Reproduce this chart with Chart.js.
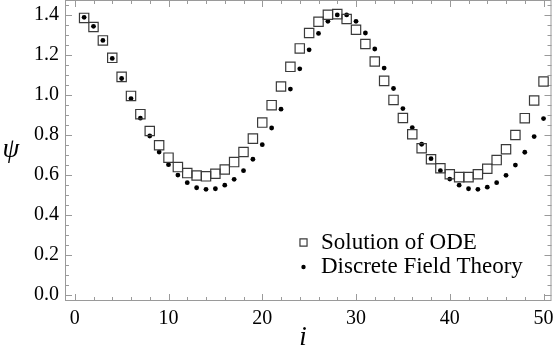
<!DOCTYPE html>
<html>
<head>
<meta charset="utf-8">
<script src="https://cdn.jsdelivr.net/npm/chart.js@4.4.1/dist/chart.umd.min.js"></script>
<style>
  body { margin: 0; background: #fff; }
  #wrap { width: 554px; height: 364px; position: relative; }
</style>
</head>
<body>
<div id="wrap"><canvas id="psiChart"></canvas></div>
<script>
// site index i
const siteIndex = [1, 2, 3, 4, 5, 6, 7, 8, 9, 10, 11, 12, 13, 14, 15, 16, 17, 18, 19, 20,
    21, 22, 23, 24, 25, 26, 27, 28, 29, 30, 31, 32, 33, 34, 35, 36, 37, 38, 39, 40,
    41, 42, 43, 44, 45, 46, 47, 48, 49, 50];

// psi from the ODE solution (open squares)
const odeValues = [1.383, 1.338, 1.271, 1.184, 1.089, 0.994, 0.903, 0.819, 0.748, 0.686,
    0.639, 0.609, 0.597, 0.593, 0.606, 0.627, 0.664, 0.714, 0.781, 0.861,
    0.948, 1.041, 1.139, 1.231, 1.308, 1.364, 1.399, 1.402, 1.378, 1.324,
    1.253, 1.166, 1.069, 0.974, 0.884, 0.803, 0.733, 0.678, 0.633, 0.603,
    0.589, 0.589, 0.603, 0.631, 0.674, 0.728, 0.799, 0.883, 0.971, 1.066];

// psi from discrete field theory (dots)
const dftValues = [1.386, 1.341, 1.271, 1.181, 1.081, 0.981, 0.883, 0.794, 0.714, 0.651,
    0.599, 0.561, 0.536, 0.528, 0.531, 0.549, 0.578, 0.621, 0.678, 0.751,
    0.834, 0.928, 1.028, 1.129, 1.224, 1.306, 1.366, 1.398, 1.398, 1.366,
    1.308, 1.228, 1.133, 1.031, 0.931, 0.836, 0.753, 0.681, 0.621, 0.579,
    0.549, 0.531, 0.528, 0.539, 0.561, 0.598, 0.649, 0.713, 0.791, 0.881];

const seriesLabels = ['Solution of ODE', 'Discrete Field Theory'];

const xTickLabels = [0, 10, 20, 30, 40, 50];
const yTickLabels = [0.0, 0.2, 0.4, 0.6, 0.8, 1.0, 1.2, 1.4];

const serif = '"Liberation Serif", "Times New Roman", serif';
const frameColor = '#9a9a9a';

// Mathematica-style frame with inward ticks on all four sides
const framePlugin = {
    id: 'frame',
    beforeDatasetsDraw(chart) {
        const ctx = chart.ctx;
        const a = chart.chartArea;
        const xs = chart.scales.x;
        const ys = chart.scales.y;
        ctx.save();
        ctx.strokeStyle = frameColor;
        ctx.lineWidth = 1;
        ctx.strokeRect(a.left + 0.5, a.top + 0.5, a.right - a.left - 1, a.bottom - a.top - 1);

        ctx.beginPath();
        for (let v = 0; v <= 50; v += 2) {
            const len = v % 10 === 0 ? 7 : 4;
            const px = Math.round(xs.getPixelForValue(v)) + 0.5;
            ctx.moveTo(px, a.bottom);
            ctx.lineTo(px, a.bottom - len);
            ctx.moveTo(px, a.top);
            ctx.lineTo(px, a.top + len);
        }
        for (let k = 0; k <= 29; k++) {
            const v = k * 0.05;
            const len = k % 4 === 0 ? 7 : 4;
            const py = Math.round(ys.getPixelForValue(v)) + 0.5;
            ctx.moveTo(a.left, py);
            ctx.lineTo(a.left + len, py);
            ctx.moveTo(a.right, py);
            ctx.lineTo(a.right - len, py);
        }
        ctx.stroke();

        // axis labels
        ctx.fillStyle = '#000';
        ctx.font = 'italic 27px ' + serif;
        ctx.textAlign = 'center';
        ctx.textBaseline = 'alphabetic';
        ctx.fillText('\u03C8', 11, 157);
        ctx.fillText('i', 303, 345);
        ctx.restore();
    },
    afterDatasetsDraw(chart) {
        const ctx = chart.ctx;
        ctx.save();
        const items = [
            {y: 242.5, ds: chart.data.datasets[0], r: 5},
            {y: 267, ds: chart.data.datasets[1], r: 2.2}
        ];
        items.forEach(function (it) {
            ctx.strokeStyle = it.ds.borderColor;
            ctx.fillStyle = it.ds.backgroundColor;
            ctx.lineWidth = it.ds.borderWidth;
            Chart.helpers.drawPoint(ctx, {pointStyle: it.ds.pointStyle, radius: it.r, borderWidth: it.ds.borderWidth}, 303.5, it.y);
            ctx.fillStyle = '#000';
            ctx.font = '23px ' + serif;
            ctx.textAlign = 'left';
            ctx.textBaseline = 'middle';
            ctx.fillText(it.ds.label, 321, it.y);
        });
        ctx.restore();
    }
};

function noEdgePadding(scale) {
    scale.paddingTop = 0;
    scale.paddingBottom = 0;
    scale.paddingLeft = 0;
    scale.paddingRight = 0;
}

new Chart(document.getElementById('psiChart'), {
    type: 'scatter',
    data: {
        datasets: [
            {
                label: seriesLabels[0],
                data: siteIndex.map((v, k) => ({x: v, y: odeValues[k]})),
                pointStyle: 'rect',
                pointRadius: 6.6,
                borderWidth: 1.2,
                borderColor: '#3a3a3a',
                backgroundColor: 'rgba(0,0,0,0)'
            },
            {
                label: seriesLabels[1],
                data: siteIndex.map((v, k) => ({x: v, y: dftValues[k]})),
                pointStyle: 'circle',
                pointRadius: 2.4,
                borderWidth: 0,
                borderColor: '#000',
                backgroundColor: '#000'
            }
        ]
    },
    options: {
        responsive: true,
        maintainAspectRatio: false,
        animation: false,
        devicePixelRatio: 1,
        layout: {
            autoPadding: false,
            padding: {top: 0, right: 2.5, left: 0, bottom: 0}
        },
        plugins: {
            legend: {display: false},
            tooltip: {enabled: false}
        },
        scales: {
            x: {
                type: 'linear',
                min: -1.04,
                max: 50.85,
                grid: {display: false, drawTicks: false},
                border: {display: false},
                afterBuildTicks: function (scale) {
                    scale.ticks = xTickLabels.map(v => ({value: v}));
                },
                afterFit: function (scale) {
                    scale.height = 63;
                    noEdgePadding(scale);
                },
                ticks: {
                    color: '#000',
                    padding: 6,
                    maxRotation: 0,
                    font: {family: serif, size: 20},
                    callback: v => String(v)
                }
            },
            y: {
                type: 'linear',
                min: -0.029,
                max: 1.4725,
                grid: {display: false, drawTicks: false},
                border: {display: false},
                afterBuildTicks: function (scale) {
                    scale.ticks = yTickLabels.map(v => ({value: v}));
                },
                afterFit: function (scale) {
                    scale.width = 65;
                    noEdgePadding(scale);
                },
                ticks: {
                    color: '#000',
                    padding: 6,
                    font: {family: serif, size: 20},
                    callback: v => Number(v).toFixed(1)
                }
            }
        }
    },
    plugins: [framePlugin]
});
</script>
</body>
</html>
